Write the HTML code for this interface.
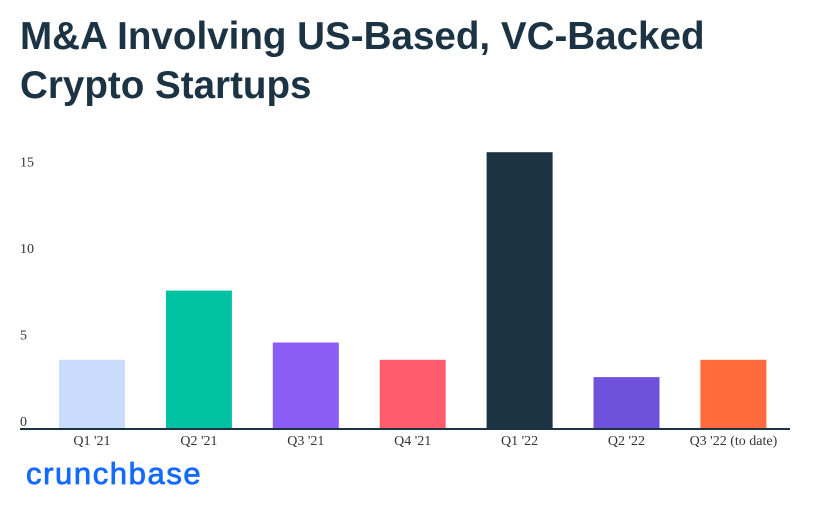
<!DOCTYPE html>
<html><head><meta charset="utf-8"><style>
body{margin:0;background:#fff;width:834px;height:513px;overflow:hidden;position:relative;font-family:"Liberation Sans",sans-serif}
#title{position:absolute;left:20px;top:12px;font-size:38.6px;font-weight:bold;color:#1c3344;line-height:49px;letter-spacing:0px;margin:0}
#logo{position:absolute;left:26px;top:456px;font-size:31px;font-weight:normal;color:#146aff;letter-spacing:1.6px;-webkit-text-stroke:0.8px #146aff}
svg{position:absolute;left:0;top:0}
</style></head><body>
<h1 id="title">M&amp;A Involving US-Based, VC-Backed<br>Crypto Startups</h1>
<svg id="chart" width="834" height="513"></svg>
<div id="logo">crunchbase</div>
<script>
const categories=["Q1 '21","Q2 '21","Q3 '21","Q4 '21","Q1 '22","Q2 '22","Q3 '22 (to date)"];
const values=[4,8,5,4,16,3,4];
const colors=["#cadcfc","#00c2a2","#8b5cf6","#ff5d6c","#1c3344","#6f52db","#ff6b3d"];
const ticks=[0,5,10,15];
const NS="http://www.w3.org/2000/svg";
const svg=document.getElementById('chart');
const y0=429,unit=17.3;
const y=v=>y0-v*unit;
const x=i=>59+i*106.9;
const bw=66;
function mk(t,a){const e=document.createElementNS(NS,t);for(const k in a)e.setAttribute(k,a[k]);svg.appendChild(e);return e;}
ticks.forEach(t=>{
 const e=mk('text',{x:20,y:y(t)-3,'font-size':14,'font-family':'Liberation Serif, serif',fill:'#333'});
 e.textContent=t;
 
 
});
values.forEach((v,i)=>{
 const r=mk('rect',{x:x(i),y:y(v),width:bw,height:y0-y(v),fill:colors[i]});
 
 
 const t=mk('text',{x:x(i)+bw/2,y:445,'text-anchor':'middle','font-size':14,'font-family':'Liberation Serif, serif',fill:'#333'});
 t.textContent=categories[i];
 
 
});
const ax=mk('line',{x1:20,x2:790,y1:y0,y2:y0,stroke:'#1c3344','stroke-width':2});


</script>
</body></html>
